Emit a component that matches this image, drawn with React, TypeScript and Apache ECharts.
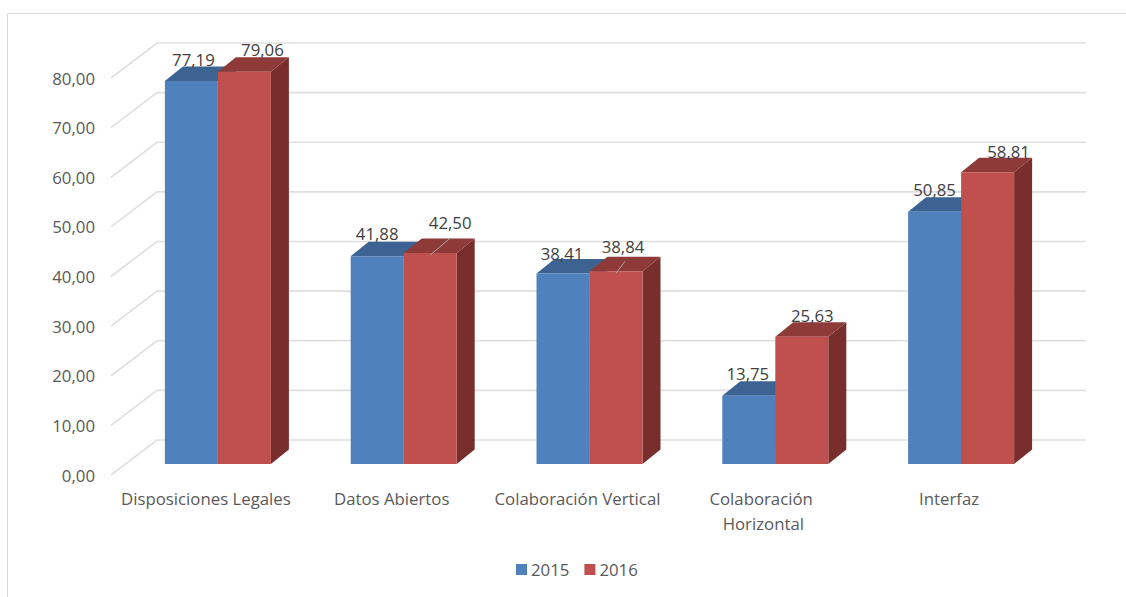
import React, { useEffect, useRef } from "react";
import * as echarts from "echarts";

const categories = ["Disposiciones Legales", "Datos Abiertos", "Colaboración Vertical", "Colaboración Horizontal", "Interfaz"];
const years = ["2015", "2016"];
const values2015 = [77.19, 41.88, 38.41, 13.75, 50.85];
const values2016 = [79.06, 42.5, 38.84, 25.63, 58.81];
const gridTicks = [0, 10, 20, 30, 40, 50, 60, 70, 80];

// Label placement relative to the bar's front top centre: [dx, dy]
const labelOffsets2015 = [[2, -21], [0, -23], [-1, -20], [-1, -22], [0, -22]];
const labelOffsets2016 = [[18, -22], [20, -31], [7, -25], [10.5, -21], [21, -21]];
// Leader line end relative to bar's front top centre (null: none)
const leaders2016: (number[] | null)[] = [null, [0, 2, 20, -15], [0, 2, 9, -10], null, null];

const fmt = (v: number) => v.toFixed(2).replace(".", ",");
const FONT = "'Open Sans', 'Noto Sans', sans-serif";
const FONT_SIZE = 16.8;
const BAR_W = 53;
const PLANE_DX = 12;
const PLANE_DY = -11;
const BAR_DX = 18;
const BAR_DY = -14.5;
const WALL_DX = 44;
const WALL_DY = -35;
const GRID_COLOR = "#dfdfdf";

function barRenderer(side: number, front: string, top: string, right: string, offsets: number[][], leaders: (number[] | null)[]) {
  return (params: any, api: any) => {
    const i = api.value(0) as number;
    const v = api.value(1) as number;
    const base = api.coord([i, 0]);
    const head = api.coord([i, v]);
    const x0 = base[0] + PLANE_DX + (side === 0 ? -BAR_W : 0);
    const x1 = x0 + BAR_W;
    const yb = base[1] + PLANE_DY;
    const yt = head[1] + PLANE_DY;
    const cx = (x0 + x1) / 2;
    const children: any[] = [
      { type: "polygon", shape: { points: [[x1, yt], [x1 + BAR_DX, yt + BAR_DY], [x1 + BAR_DX, yb + BAR_DY], [x1, yb]] }, style: { fill: right } },
      { type: "polygon", shape: { points: [[x0, yt], [x0 + BAR_DX, yt + BAR_DY], [x1 + BAR_DX, yt + BAR_DY], [x1, yt]] }, style: { fill: top } },
      { type: "rect", shape: { x: x0, y: yt, width: BAR_W, height: yb - yt }, style: { fill: front } },
    ];
    const lead = leaders[i];
    if (lead) {
      children.push({
        type: "line",
        shape: { x1: cx + lead[0], y1: yt + lead[1], x2: cx + lead[2], y2: yt + lead[3] },
        style: { stroke: "#a6a6a6", lineWidth: 1 },
      });
    }
    const off = offsets[i];
    children.push({
      type: "text",
      x: cx + off[0],
      y: yt + off[1],
      style: { text: fmt(v), fill: "#404040", font: `${FONT_SIZE}px ${FONT}`, align: "center", verticalAlign: "middle" },
    });
    return { type: "group", children };
  };
}

function gridRenderer(params: any, api: any) {
  const v = api.value(0) as number;
  const left = params.coordSys.x;
  const width = params.coordSys.width;
  const y = api.coord([0, v])[1];
  const style = { stroke: GRID_COLOR, lineWidth: 1.6, fill: "none" };
  return {
    type: "polyline",
    shape: { points: [[left - 2, y], [left + WALL_DX, y + WALL_DY], [left + width + WALL_DX, y + WALL_DY]] },
    style,
  };
}

export default function App() {
  const ref = useRef<HTMLDivElement>(null);
  useEffect(() => {
    const chart = echarts.init(ref.current!, undefined, { renderer: "svg" });
    chart.setOption({
      animation: false,
      backgroundColor: "#ffffff",
      grid: { left: 113, top: 78, width: 929, height: 397 },
      legend: {
        data: years,
        left: 516,
        top: 561,
        padding: 0,
        icon: "rect",
        itemWidth: 11,
        itemHeight: 11,
        itemGap: 15,
        textStyle: { fontFamily: FONT, fontSize: FONT_SIZE, color: "#595959", padding: [0, 0, 0, -1] },
      },
      xAxis: {
        type: "category",
        data: categories,
        axisLine: { show: false },
        axisTick: { show: false },
        axisLabel: {
          interval: 0,
          margin: 11,
          width: 180,
          overflow: "break",
          lineHeight: 25,
          color: "#595959",
          fontFamily: FONT,
          fontSize: FONT_SIZE,
        },
      },
      yAxis: {
        type: "value",
        min: 0,
        max: 80,
        interval: 10,
        splitLine: { show: false },
        axisLine: { show: false },
        axisTick: { show: false },
        axisLabel: {
          margin: 18,
          color: "#595959",
          fontFamily: FONT,
          fontSize: FONT_SIZE,
          formatter: (v: number) => fmt(v),
        },
      },
      graphic: [
        { type: "polyline", silent: true, shape: { points: [[7.5, 597], [7.5, 13.5], [1126, 13.5]] }, style: { stroke: "#d9d9d9", lineWidth: 1, fill: "none" } },
      ],
      series: [
        {
          type: "custom",
          name: "grid",
          silent: true,
          clip: false,
          z: 1,
          data: gridTicks.map((t) => [t]),
          encode: { y: 0 },
          renderItem: gridRenderer,
        },
        {
          type: "custom",
          name: years[0],
          clip: false,
          z: 2,
          itemStyle: { color: "#4f81bd" },
          data: values2015.map((v, i) => [i, v]),
          encode: { x: 0, y: 1 },
          renderItem: barRenderer(0, "#4f81bd", "#3c6392", "#3c6392", labelOffsets2015, [null, null, null, null, null]),
        },
        {
          type: "custom",
          name: years[1],
          clip: false,
          z: 3,
          itemStyle: { color: "#c0504d" },
          data: values2016.map((v, i) => [i, v]),
          encode: { x: 0, y: 1 },
          renderItem: barRenderer(1, "#c0504d", "#8e3a38", "#772e2c", labelOffsets2016, leaders2016),
        },
      ],
    });
    return () => chart.dispose();
  }, []);
  return <div ref={ref} style={{ position: "absolute", left: 0, top: 0, width: 1126, height: 597 }} />;
}
